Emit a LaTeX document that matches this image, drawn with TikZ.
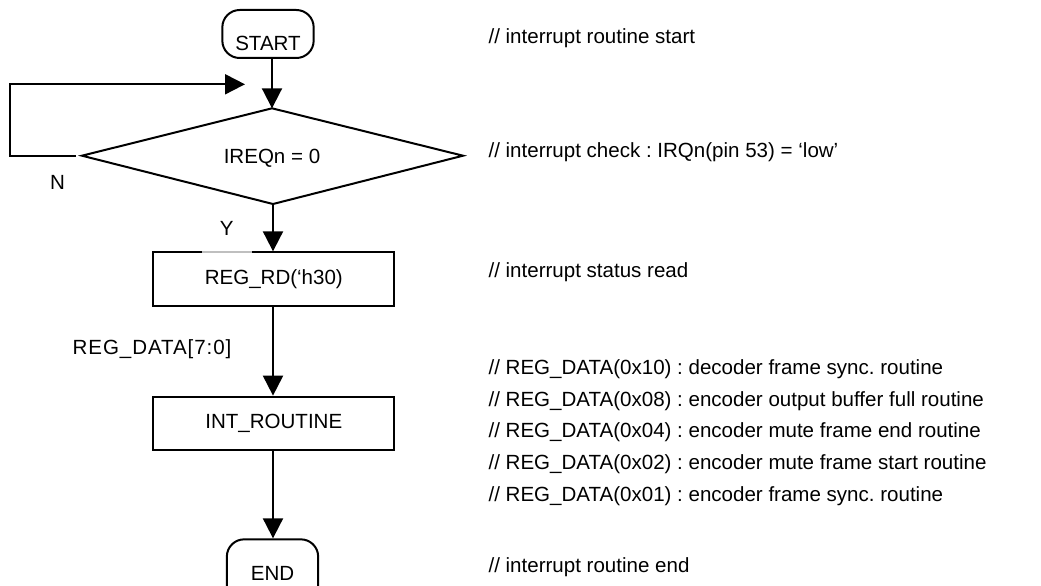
\documentclass[tikz,border=0pt]{standalone}
\usepackage{fontspec}
\setmainfont{Liberation Sans}
\usetikzlibrary{arrows.meta,shapes.geometric}
\frenchspacing
\begin{document}
\begin{tikzpicture}[x=0.75pt,y=-0.75pt,
  every node/.style={font=\fontsize{15.4pt}{18pt}\selectfont, inner sep=0pt},
  ln/.style={line width=1.5pt, draw=black},
  arr/.style={ln, -{Triangle[width=15pt,length=15pt]}},
  term/.style={ln, rounded corners=13pt, minimum width=68.5pt, minimum height=36pt},
  procbox/.style={ln, minimum width=181pt, minimum height=40pt},
  cmt/.style={anchor=base west}
]
\useasboundingbox (0,0) rectangle (1041,585);
% terminals
\node[term] (start) at (268,34) {};
\node (starttxt) at (268,43) {START};
% decision
\coordinate (dt) at (272,108.3);
\coordinate (dl) at (82,155.7);
\coordinate (dr) at (463,155.7);
\coordinate (db) at (273,204);
\draw[ln, line join=miter] (dt) -- (dr) -- (db) -- (dl) -- cycle;
\node (cond) at (272,158) {IREQn = 0};
% process boxes
\node[procbox] (rd) at (273.8,279) {REG\_RD(‘h30)};
\node[procbox] (intr) at (273.8,423.3) {INT\_ROUTINE};
\node[term, minimum height=52pt] (end) at (272.5,574) {};
\node (endtxt) at (272.5,573) {END};
% connectors
\draw[arr] (272,58.3) -- (dt);
\draw[arr] (db) -- (rd.north -| db);
\draw[arr] (rd.south -| db) -- (intr.north -| db);
\draw[arr] (intr.south -| db) -- (end.north -| db);
\coordinate (loopend) at (245,84.3);
\draw[arr] ([xshift=-4.5pt]dl) -| (10,84.3) -- (loopend);
% labels
\node (n) at (57.5,182) {N};
\node[fill=white, fill opacity=0.75, text opacity=1, minimum width=37.5pt, text height=11pt, text depth=15pt] (y) at (226.7,238) {Y};
\node (regdata) at (152,349.5) {\addfontfeature{LetterSpace=4.5}REG\_DATA[7:0]};
% comments
\node[cmt] (c1) at (488.3,44) {// interrupt routine start};
\node[cmt] (c2) at (488.3,157) {// interrupt check : IRQn(pin 53) = ‘low’};
\node[cmt] (c3) at (488.3,277) {// interrupt status read};
\node[cmt] (c4) at (488.3,374.3) {// REG\_DATA(0x10) : decoder frame sync. routine};
\node[cmt] (c5) at (488.3,406) {// REG\_DATA(0x08) : encoder output buffer full routine};
\node[cmt] (c6) at (488.3,437.7) {// REG\_DATA(0x04) : encoder mute frame end routine};
\node[cmt] (c7) at (488.3,469.3) {// REG\_DATA(0x02) : encoder mute frame start routine};
\node[cmt] (c8) at (488.3,501) {// REG\_DATA(0x01) : encoder frame sync. routine};
\node[cmt] (c9) at (488.3,572.7) {// interrupt routine end};
\end{tikzpicture}
\end{document}
